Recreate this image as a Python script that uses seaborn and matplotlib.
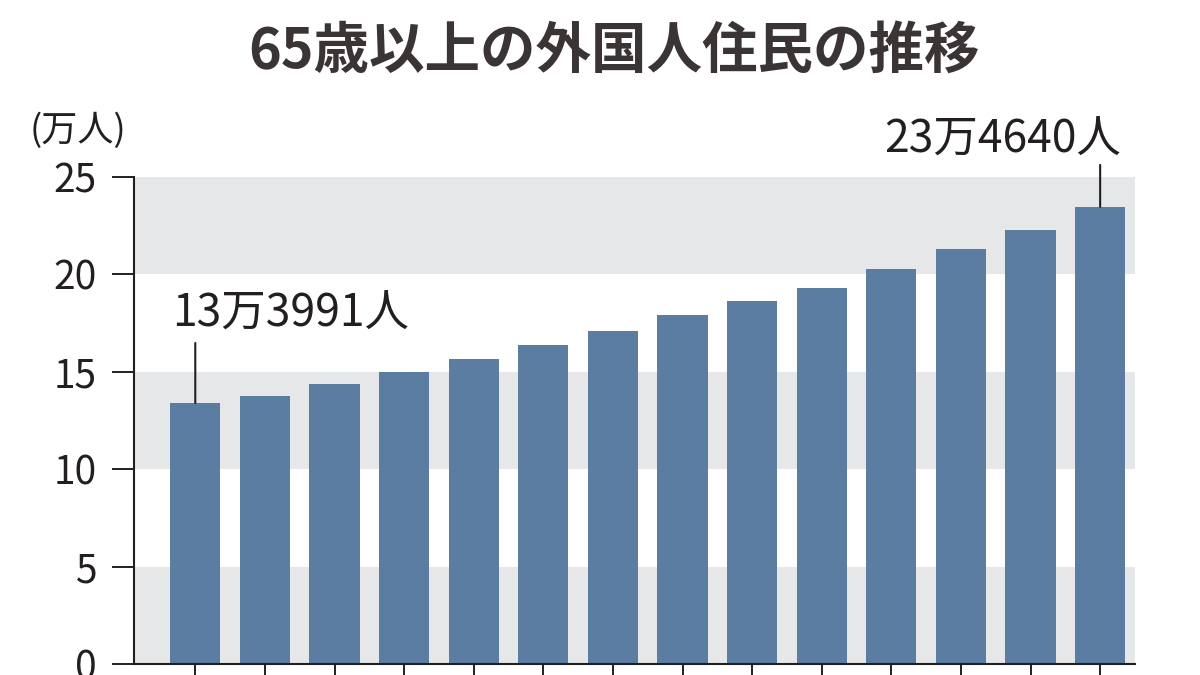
import numpy as np
import pandas as pd
import matplotlib
matplotlib.use("Agg")
import matplotlib.pyplot as plt
import seaborn as sns

# データ（万人）
periods = [str(i) for i in range(14)]
residents = [13.3991, 13.78, 14.39, 15.0, 15.65, 16.36, 17.08,
             17.90, 18.61, 19.32, 20.28, 21.30, 22.28, 23.4640]
first_label = "13万3991人"
last_label = "23万4640人"
title = "65歳以上の外国人住民の推移"
unit = "(万人)"
y_ticks = [0, 5, 10, 15, 20, 25]

bar_color = "#5b7da1"
band_color = "#e6e7e9"
ink = "#231f20"

sns.set_style("white")
plt.rcParams["font.family"] = ["Noto Sans CJK JP", "DejaVu Sans"]

df = pd.DataFrame({"period": periods, "value": residents})

fig = plt.figure(figsize=(12, 6.75), dpi=100)
ax = fig.add_axes([0.1117, 0.0163, 0.8341, 0.7215])

# 背景の帯
for lo in y_ticks[:-1:2]:
    ax.axhspan(lo, lo + 5, color=band_color, lw=0, zorder=0)

sns.barplot(data=df, x="period", y="value", color=bar_color, saturation=1,
            width=0.72, linewidth=0, ax=ax, zorder=2)

ax.set_xlim(-0.88, 13.5)
ax.set_ylim(0, 25)
ax.set_yticks(y_ticks)
ax.set_yticklabels([str(t) for t in y_ticks], fontsize=28, color=ink)
ax.set_xticks(range(len(periods)))
ax.set_xticklabels([""] * len(periods))
ax.set_xlabel("")
ax.set_ylabel("")
ax.tick_params(axis="both", direction="out", length=16, width=1.4, color=ink,
               bottom=True, left=True)
ax.tick_params(axis="y", pad=11)

for s in ["top", "right"]:
    ax.spines[s].set_visible(False)
for s in ["left", "bottom"]:
    ax.spines[s].set_color(ink)
    ax.spines[s].set_linewidth(1.5)

# 注記
def note(i, text, line_px, dx, dy):
    v = residents[i]
    ax.annotate("", xy=(i, v), xytext=(0, line_px), textcoords="offset pixels",
                arrowprops=dict(arrowstyle="-", lw=1.5, color=ink,
                                shrinkA=0, shrinkB=0), zorder=3)
    ax.annotate(text, xy=(i, v), xytext=(dx, dy), textcoords="offset pixels",
                ha="center", va="baseline", fontsize=32, color=ink,
                annotation_clip=False)

note(0, first_label, 60, 95, 76)
note(len(residents) - 1, last_label, 42, -98, 54)

fig.text(0.065, 1 - 113 / 675, unit, ha="center", va="top", fontsize=26, color=ink)
fig.text(0.512, 0.923, title, ha="center", va="center", fontsize=40,
         fontweight="bold", color="#3b3435")

fig.savefig("out.png", dpi=100)
